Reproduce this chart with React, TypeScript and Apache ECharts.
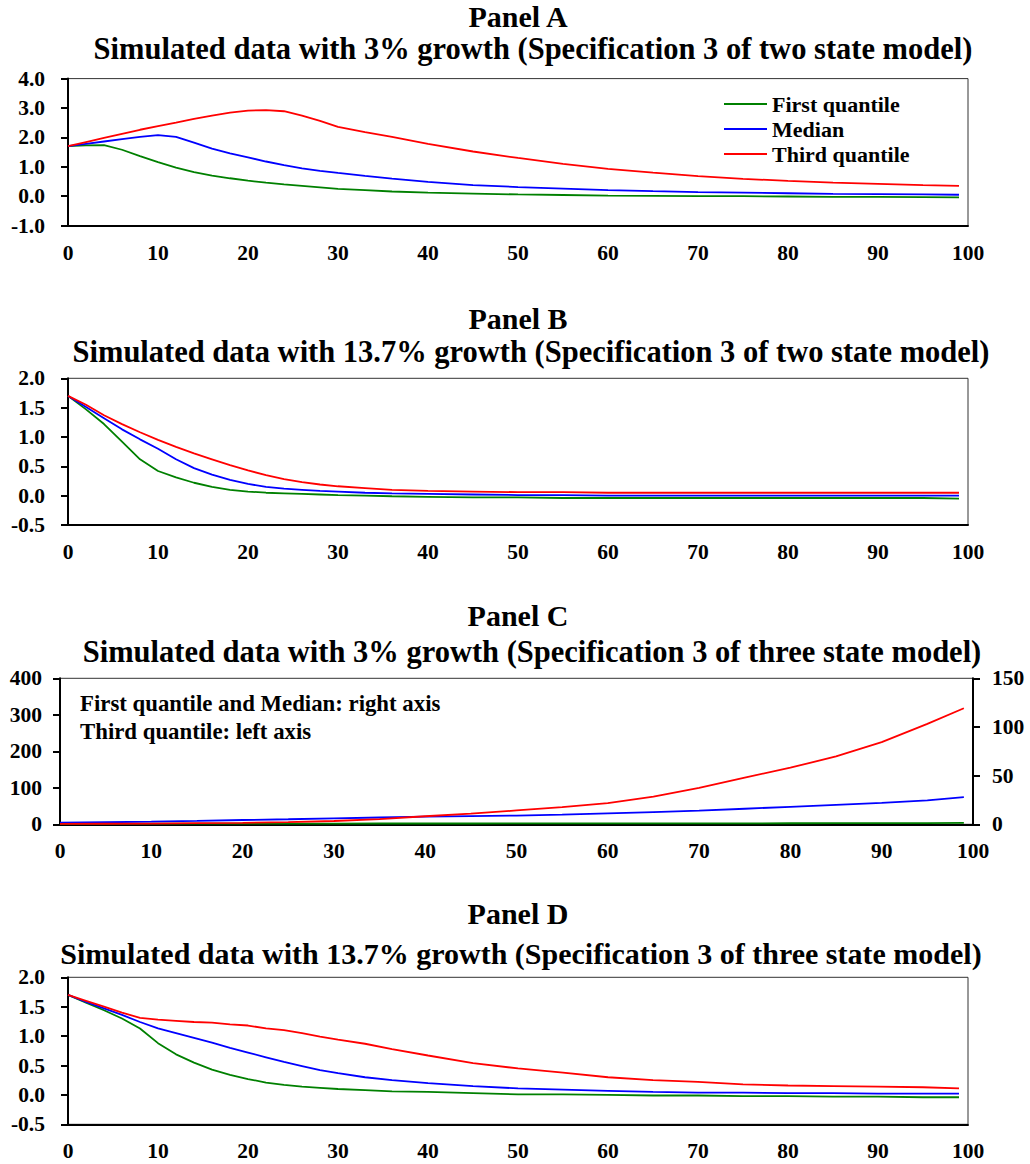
import React, { useEffect, useRef } from "react";
import * as echarts from "echarts";

const steps = [0, 2, 4, 6, 8, 10, 12, 14, 16, 18, 20, 22, 24, 26, 28, 30, 33, 36, 40, 45, 50, 55, 60, 65, 70, 75, 80, 85, 90, 95, 99];
// Panel C steps
const stepsC = [0, 5, 10, 15, 20, 25, 30, 35, 40, 45, 50, 55, 60, 65, 70, 75, 80, 85, 90, 95, 99];

const seriesNames = ["First quantile", "Median", "Third quantile"];

// Panel A
const aFirst = [1.70, 1.73, 1.74, 1.58, 1.36, 1.16, 0.97, 0.82, 0.70, 0.61, 0.53, 0.46, 0.40, 0.35, 0.30, 0.25, 0.21, 0.16, 0.12, 0.09, 0.06, 0.04, 0.02, 0.01, 0.00, 0.00, -0.01, -0.02, -0.02, -0.03, -0.04];
const aMedian = [1.70, 1.78, 1.86, 1.94, 2.02, 2.08, 2.02, 1.82, 1.62, 1.46, 1.32, 1.18, 1.06, 0.95, 0.86, 0.79, 0.69, 0.60, 0.49, 0.38, 0.31, 0.26, 0.21, 0.17, 0.14, 0.12, 0.10, 0.08, 0.07, 0.06, 0.05];
const aThird = [1.70, 1.84, 1.98, 2.12, 2.26, 2.38, 2.50, 2.63, 2.74, 2.84, 2.91, 2.93, 2.89, 2.74, 2.56, 2.36, 2.18, 2.02, 1.78, 1.52, 1.30, 1.10, 0.93, 0.80, 0.68, 0.59, 0.52, 0.46, 0.42, 0.38, 0.35];

// Panel B
const bFirst = [1.70, 1.47, 1.22, 0.92, 0.62, 0.42, 0.31, 0.22, 0.15, 0.10, 0.07, 0.05, 0.04, 0.03, 0.02, 0.01, 0.00, -0.01, -0.02, -0.03, -0.03, -0.04, -0.04, -0.04, -0.04, -0.04, -0.04, -0.04, -0.04, -0.04, -0.05];
const bMedian = [1.70, 1.51, 1.32, 1.13, 0.96, 0.80, 0.62, 0.47, 0.36, 0.27, 0.20, 0.15, 0.12, 0.10, 0.08, 0.07, 0.05, 0.04, 0.03, 0.02, 0.01, 0.01, 0.00, 0.00, 0.00, 0.00, 0.00, 0.00, 0.00, 0.00, 0.00];
const bThird = [1.70, 1.55, 1.37, 1.22, 1.08, 0.95, 0.83, 0.72, 0.62, 0.52, 0.43, 0.35, 0.28, 0.23, 0.19, 0.16, 0.13, 0.10, 0.08, 0.07, 0.06, 0.06, 0.05, 0.05, 0.05, 0.05, 0.05, 0.05, 0.05, 0.05, 0.05];

// Panel C (First quantile and Median on right axis, Third quantile on left axis)
const cFirst = [0.5, 0.5, 0.6, 0.6, 0.7, 0.7, 0.7, 0.8, 0.8, 0.8, 0.9, 0.9, 0.9, 1.0, 1.0, 1.0, 1.1, 1.3, 1.3, 1.3, 1.4];
const cMedian = [1.6, 2.1, 2.7, 3.5, 4.4, 5.2, 6.1, 7.0, 7.8, 8.4, 9.0, 10.0, 11.3, 12.6, 14.0, 16.0, 18.0, 20.0, 22.0, 24.5, 28.0];
const cThird = [1, 1.5, 2, 3, 4, 6, 9, 14, 22, 29, 38, 47, 58, 76, 100, 128, 155, 186, 225, 275, 318];

// Panel D
const dFirst = [1.70, 1.57, 1.44, 1.30, 1.13, 0.88, 0.69, 0.55, 0.43, 0.34, 0.27, 0.21, 0.17, 0.14, 0.12, 0.10, 0.08, 0.06, 0.05, 0.03, 0.01, 0.01, 0.00, -0.01, -0.01, -0.02, -0.02, -0.03, -0.03, -0.04, -0.04];
const dMedian = [1.70, 1.58, 1.47, 1.36, 1.24, 1.13, 1.05, 0.97, 0.89, 0.80, 0.72, 0.64, 0.56, 0.49, 0.42, 0.37, 0.30, 0.25, 0.20, 0.15, 0.11, 0.09, 0.07, 0.05, 0.04, 0.04, 0.03, 0.03, 0.02, 0.02, 0.02];
const dThird = [1.70, 1.60, 1.50, 1.40, 1.31, 1.28, 1.26, 1.24, 1.23, 1.20, 1.18, 1.13, 1.10, 1.05, 0.99, 0.94, 0.87, 0.78, 0.67, 0.54, 0.45, 0.38, 0.30, 0.25, 0.22, 0.18, 0.16, 0.15, 0.14, 0.13, 0.11];

const panelTitles = ["Panel A", "Panel B", "Panel C", "Panel D"];
const panelSubtitles = [
  "Simulated data with 3% growth (Specification 3 of two state model)",
  "Simulated data with 13.7% growth (Specification 3 of two state model)",
  "Simulated data with 3% growth (Specification 3 of three state model)",
  "Simulated data with 13.7% growth (Specification 3 of three state model)",
];
const noteC = ["First quantile and Median: right axis", "Third quantile: left axis"];

const colors = ["#008000", "#0000ff", "#ff0000"];
const FONT = "'Liberation Serif', 'Times New Roman', serif";

const pairs = (xs: number[], ys: number[]) => xs.map((x, i) => [x, ys[i]]);

export default function App() {
  const ref = useRef<HTMLDivElement>(null);
  useEffect(() => {
    if (!ref.current) return;
    const chart = echarts.init(ref.current, undefined, { renderer: "svg" });

    const grids = [
      { left: 68, right: 62, top: 78.6, height: 147 },
      { left: 68, right: 62, top: 378.3, height: 146.7 },
      { left: 60, right: 57, top: 678.3, height: 146 },
      { left: 68, right: 62, top: 977.3, height: 147 },
    ].map((g) => ({ ...g, show: true, borderColor: "#333", borderWidth: 1, backgroundColor: "transparent" }));

    const labelStyle = { fontFamily: FONT, fontWeight: "bold" as const, fontSize: 21.5, color: "#000" };
    const axisLine = { show: true, onZero: false, lineStyle: { color: "#000", width: 2 } };

    const xAxes = [0, 1, 2, 3].map((i) => ({
      type: "value",
      gridIndex: i,
      min: 0,
      max: 100,
      interval: 10,
      axisLine,
      axisTick: { show: false },
      splitLine: { show: false },
      axisLabel: { ...labelStyle, margin: 16 },
    }));

    const yBase = (gridIndex: number) => ({
      type: "value",
      gridIndex,
      axisLine,
      axisTick: { show: true, inside: false, length: 7, lineStyle: { color: "#000", width: 2 } },
      splitLine: { show: false },
    });

    const yAxes = [
      { ...yBase(0), min: -1, max: 4, interval: 1, axisLabel: { ...labelStyle, margin: 23, formatter: (v: number) => v.toFixed(1) } },
      { ...yBase(1), min: -0.5, max: 2, interval: 0.5, axisLabel: { ...labelStyle, margin: 23, formatter: (v: number) => v.toFixed(1) } },
      { ...yBase(2), min: 0, max: 400, interval: 100, axisLabel: { ...labelStyle, margin: 18 } },
      { ...yBase(2), position: "right", min: 0, max: 150, interval: 50, axisLabel: { ...labelStyle, margin: 19 } },
      { ...yBase(3), min: -0.5, max: 2, interval: 0.5, axisLabel: { ...labelStyle, margin: 23, formatter: (v: number) => v.toFixed(1) } },
    ];

    const mk = (name: string, color: string, xIdx: number, yIdx: number, data: number[][]) => ({
      type: "line",
      name,
      xAxisIndex: xIdx,
      yAxisIndex: yIdx,
      data,
      symbol: "none",
      showSymbol: false,
      lineStyle: { color, width: 1.8 },
      itemStyle: { color },
      z: 3,
    });

    const series = [
      mk(seriesNames[0], colors[0], 0, 0, pairs(steps, aFirst)),
      mk(seriesNames[1], colors[1], 0, 0, pairs(steps, aMedian)),
      mk(seriesNames[2], colors[2], 0, 0, pairs(steps, aThird)),
      mk(seriesNames[0], colors[0], 1, 1, pairs(steps, bFirst)),
      mk(seriesNames[1], colors[1], 1, 1, pairs(steps, bMedian)),
      mk(seriesNames[2], colors[2], 1, 1, pairs(steps, bThird)),
      mk(seriesNames[0], colors[0], 2, 3, pairs(stepsC, cFirst)),
      mk(seriesNames[1], colors[1], 2, 3, pairs(stepsC, cMedian)),
      mk(seriesNames[2], colors[2], 2, 2, pairs(stepsC, cThird)),
      mk(seriesNames[0], colors[0], 3, 4, pairs(steps, dFirst)),
      mk(seriesNames[1], colors[1], 3, 4, pairs(steps, dMedian)),
      mk(seriesNames[2], colors[2], 3, 4, pairs(steps, dThird)),
    ];

    const titleY = [16, 318, 615, 913];
    const subY = [49, 352, 652, 953];
    const subX = [533, 531, 532, 521];
    const subSize = [30.5, 30.5, 30.5, 30];
    const graphic: any[] = [];
    panelTitles.forEach((t, i) => {
      graphic.push({
        type: "text",
        x: 518,
        y: titleY[i],
        style: { text: t, fontFamily: FONT, fontWeight: "bold", fontSize: 30, fill: "#000", align: "center", verticalAlign: "middle" },
      });
      graphic.push({
        type: "text",
        x: subX[i],
        y: subY[i],
        style: { text: panelSubtitles[i], fontFamily: FONT, fontWeight: "bold", fontSize: subSize[i], fill: "#000", align: "center", verticalAlign: "middle" },
      });
    });
    noteC.forEach((t, i) => {
      graphic.push({
        type: "text",
        x: 80,
        y: 703 + i * 28,
        style: { text: t, fontFamily: FONT, fontWeight: "bold", fontSize: 22.8, fill: "#000", align: "left", verticalAlign: "middle" },
      });
    });

    chart.setOption({
      animation: false,
      backgroundColor: "#fff",
      grid: grids,
      xAxis: xAxes,
      yAxis: yAxes,
      series,
      graphic,
      legend: {
        data: seriesNames.map((n) => ({ name: n, icon: "rect" })),
        orient: "vertical",
        left: 719,
        top: 88,
        itemWidth: 43,
        itemHeight: 2,
        itemGap: 3,
        selectedMode: false,
        textStyle: { fontFamily: FONT, fontWeight: "bold", fontSize: 22, color: "#000", lineHeight: 22 },
      },
    });
    return () => chart.dispose();
  }, []);

  return <div ref={ref} style={{ position: "absolute", left: 0, top: 0, width: 1030, height: 1164 }} />;
}
